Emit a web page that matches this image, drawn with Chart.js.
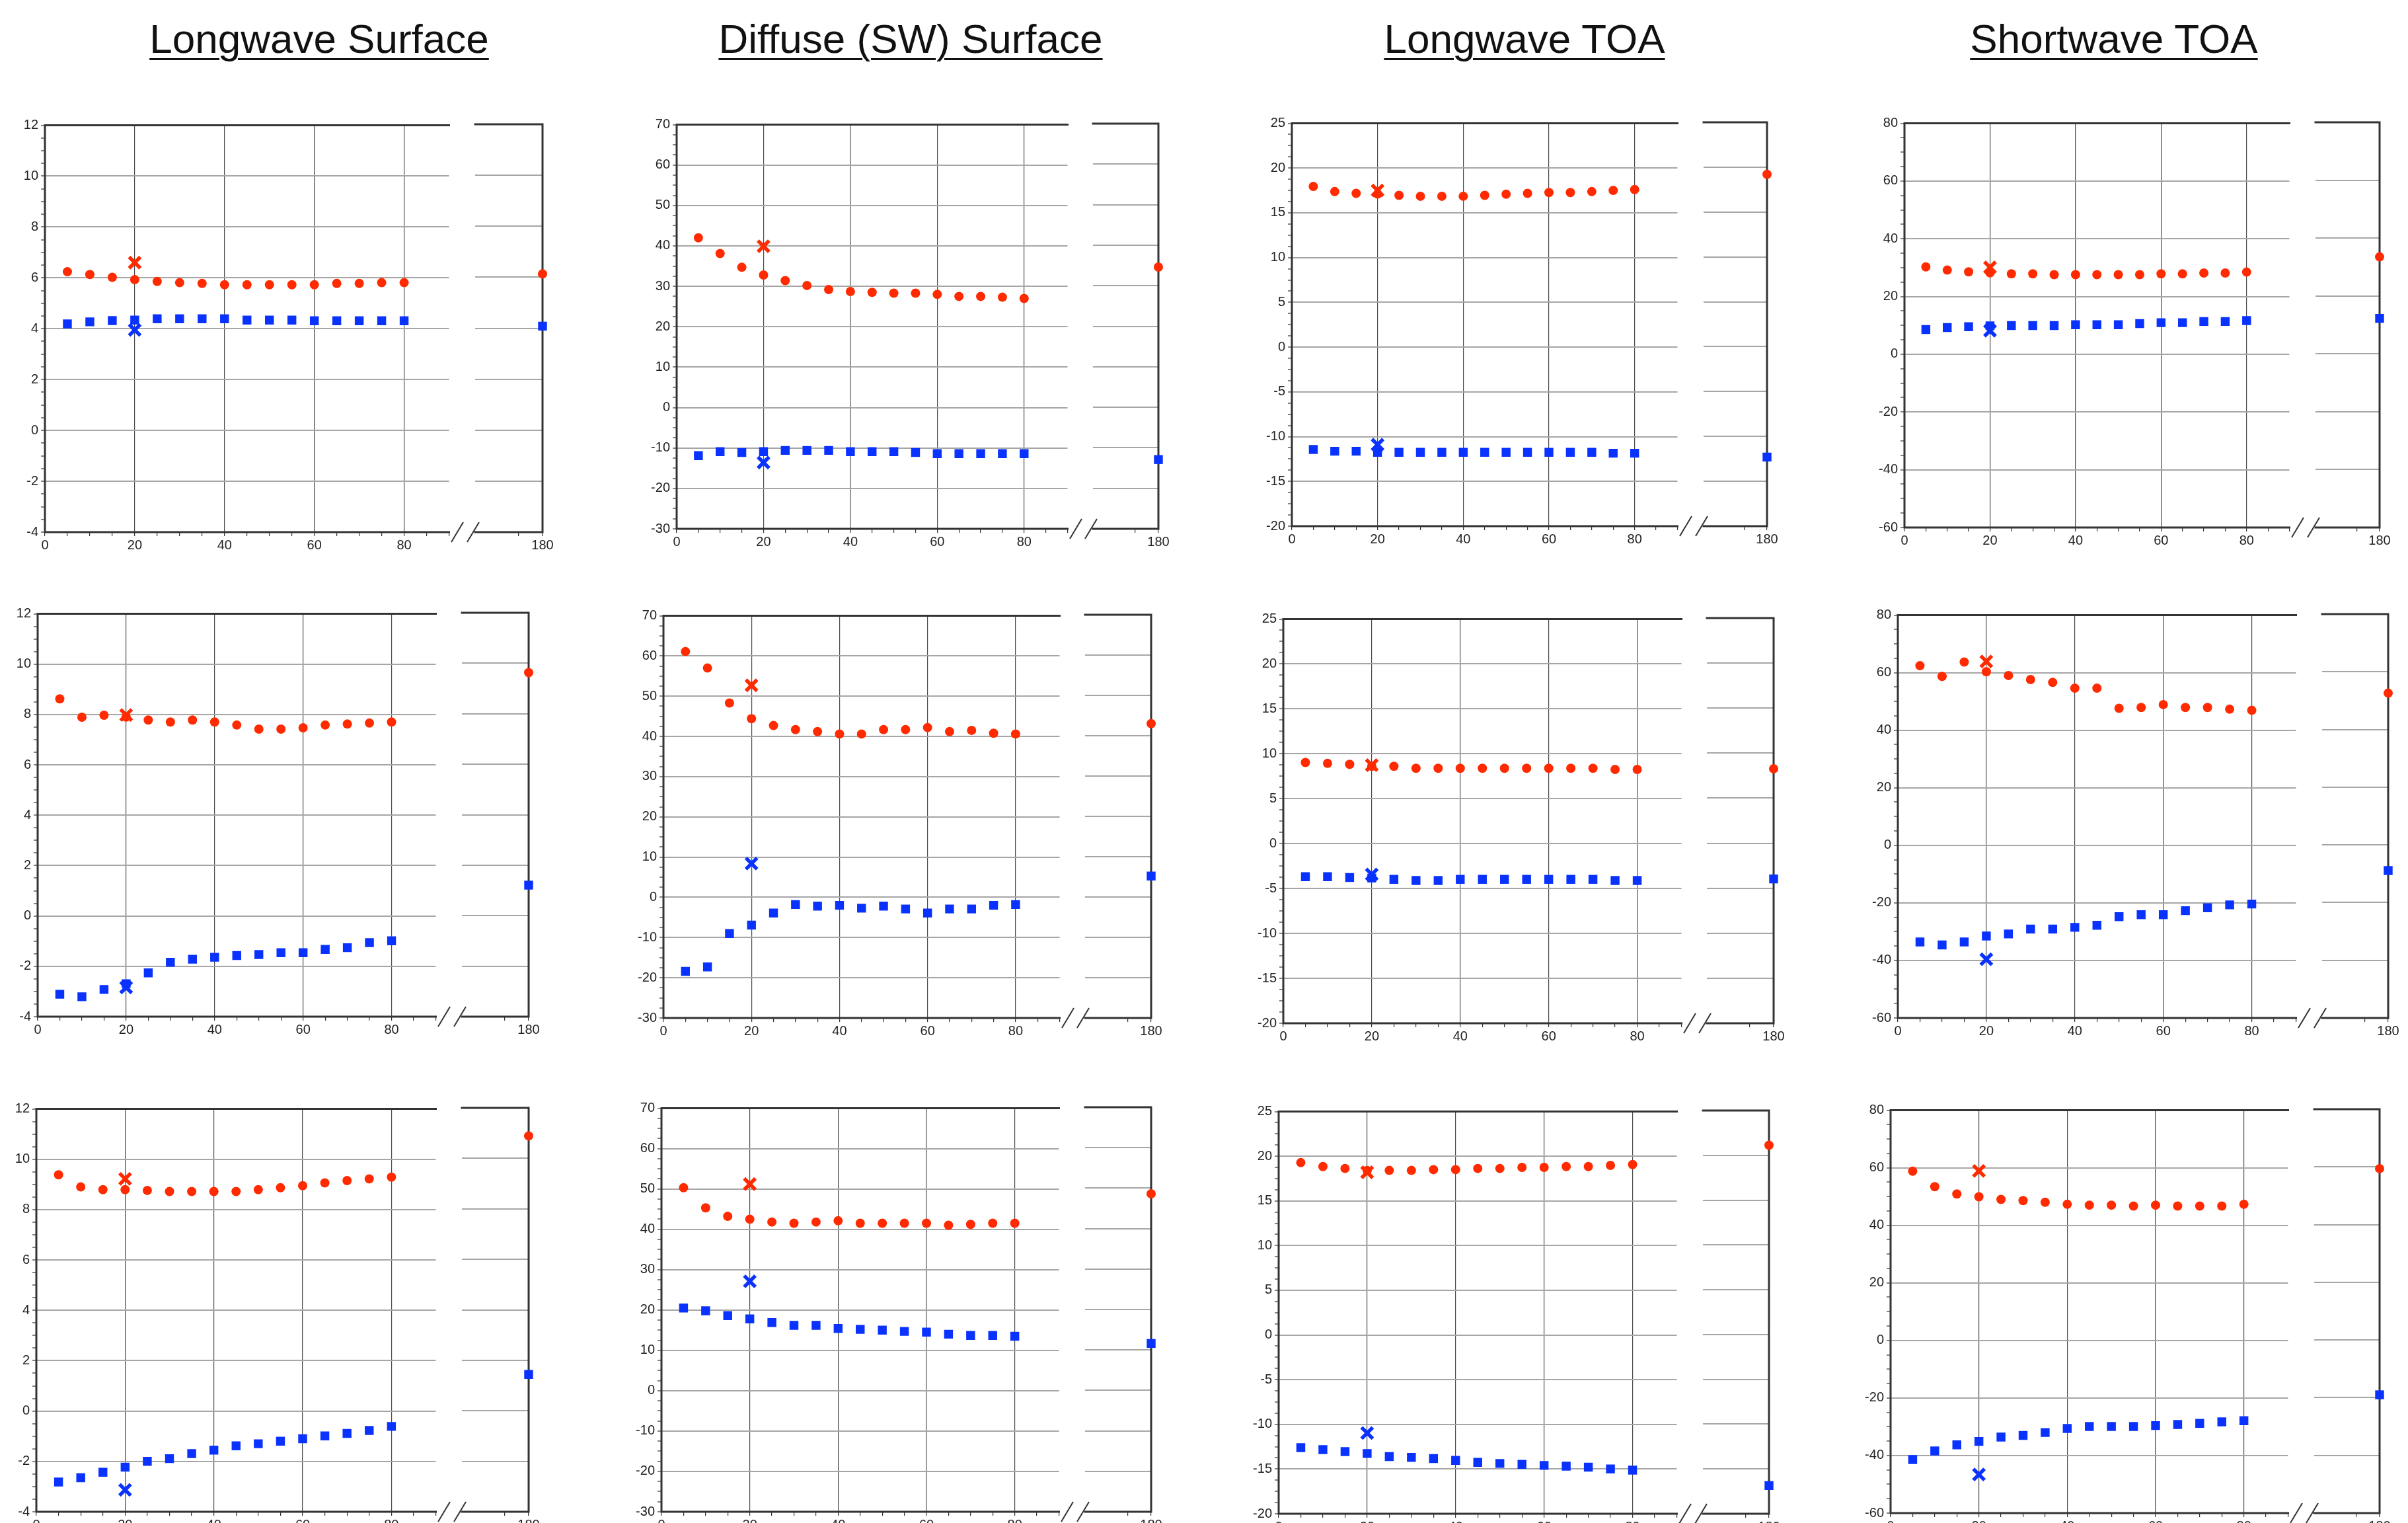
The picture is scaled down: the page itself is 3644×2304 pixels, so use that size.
<!DOCTYPE html>
<html>
<head>
<meta charset="utf-8">
<title>Surface and TOA flux panels</title>
<script src="https://cdn.jsdelivr.net/npm/chart.js@4.4.1/dist/chart.umd.min.js"></script>
<style>
  html, body { margin: 0; padding: 0; background: #fff; }
  #page { position: relative; width: 3644px; height: 2304px; overflow: hidden; background: #fff; }
  #page canvas { position: absolute; }
  .title {
    position: absolute; top: 23px; transform: translateX(-50%);
    font-family: 'Liberation Sans', Arial, sans-serif; font-size: 62px; color: #111;
    text-decoration: underline; text-decoration-thickness: 3px; text-underline-offset: 8px;
    white-space: nowrap;
  }
</style>
</head>
<body>
<div id="page"></div>
<script>
// x positions of the points; the last one sits past the axis break
const angles = [5, 10, 15, 20, 25, 30, 35, 40, 45, 50, 55, 60, 65, 70, 75, 80, 180];
const crossAngle = 20;
const xTickLabels = [0, 20, 40, 60, 80, 180];

const columnTitles = ['Longwave Surface', 'Diffuse (SW) Surface', 'Longwave TOA', 'Shortwave TOA'];
const yTickMin = [-4, -30, -20, -60];
const yTickMax = [12, 70, 25, 80];
const yTickStep = [2, 10, 5, 20];

// row 1
const row1LwSfcRed = [6.24, 6.13, 6.02, 5.93, 5.86, 5.81, 5.78, 5.73, 5.73, 5.73, 5.73, 5.73, 5.78, 5.78, 5.81, 5.81, 6.13];
const row1LwSfcBlue = [4.19, 4.27, 4.32, 4.34, 4.39, 4.39, 4.39, 4.39, 4.34, 4.34, 4.34, 4.31, 4.31, 4.31, 4.31, 4.31, 4.08];
const row1LwSfcCross = [6.6, 3.95];
const row1DifRed = [42.0, 38.1, 34.7, 32.8, 31.4, 30.2, 29.2, 28.7, 28.5, 28.3, 28.3, 28.0, 27.5, 27.5, 27.3, 27.0, 34.6];
const row1DifBlue = [-11.9, -10.9, -11.1, -10.9, -10.6, -10.6, -10.6, -10.9, -10.9, -10.9, -11.1, -11.4, -11.4, -11.4, -11.4, -11.4, -12.9];
const row1DifCross = [39.9, -13.6];
const row1LwToaRed = [17.94, 17.37, 17.17, 17.1, 16.95, 16.85, 16.85, 16.85, 16.95, 17.08, 17.17, 17.27, 17.27, 17.37, 17.5, 17.6, 19.2];
const row1LwToaBlue = [-11.43, -11.63, -11.63, -11.75, -11.75, -11.75, -11.75, -11.75, -11.75, -11.75, -11.75, -11.75, -11.75, -11.75, -11.85, -11.85, -12.3];
const row1LwToaCross = [17.5, -10.9];
const row1SwToaRed = [30.25, 29.15, 28.56, 28.2, 27.86, 27.86, 27.56, 27.56, 27.56, 27.56, 27.56, 27.86, 27.86, 28.16, 28.16, 28.46, 33.5];
const row1SwToaBlue = [8.56, 9.25, 9.55, 9.85, 9.95, 9.95, 9.95, 10.25, 10.25, 10.25, 10.65, 10.95, 10.95, 11.34, 11.34, 11.64, 12.24];
const row1SwToaCross = [30.1, 8.16];

// row 2
const row2LwSfcRed = [8.62, 7.89, 7.97, 7.9, 7.78, 7.70, 7.78, 7.70, 7.58, 7.42, 7.42, 7.47, 7.58, 7.62, 7.66, 7.70, 9.63];
const row2LwSfcBlue = [-3.11, -3.21, -2.92, -2.69, -2.26, -1.84, -1.72, -1.64, -1.57, -1.53, -1.46, -1.46, -1.33, -1.26, -1.06, -0.99, 1.21];
const row2LwSfcCross = [7.98, -2.84];
const row2DifRed = [61.1, 57.0, 48.3, 44.4, 42.7, 41.7, 41.2, 40.6, 40.6, 41.7, 41.7, 42.2, 41.2, 41.5, 40.8, 40.6, 43.0];
const row2DifBlue = [-18.4, -17.3, -9.0, -6.9, -3.9, -1.8, -2.2, -2.0, -2.7, -2.2, -2.9, -3.9, -2.9, -2.9, -2.0, -1.8, 5.2];
const row2DifCross = [52.7, 8.4];
const row2LwToaRed = [9.03, 8.93, 8.83, 8.6, 8.61, 8.39, 8.39, 8.39, 8.39, 8.39, 8.39, 8.39, 8.39, 8.39, 8.26, 8.26, 8.26];
const row2LwToaBlue = [-3.68, -3.68, -3.78, -3.84, -3.97, -4.1, -4.1, -3.97, -3.97, -3.97, -3.97, -3.97, -3.97, -3.97, -4.1, -4.1, -3.97];
const row2LwToaCross = [8.74, -3.43];
const row2SwToaRed = [62.4, 58.7, 63.7, 60.3, 59.0, 57.6, 56.6, 54.6, 54.6, 47.6, 47.9, 48.9, 47.9, 47.9, 47.3, 46.9, 52.6];
const row2SwToaBlue = [-33.6, -34.6, -33.6, -31.5, -30.8, -29.1, -29.1, -28.5, -27.8, -24.8, -24.1, -24.1, -22.7, -21.7, -20.7, -20.4, -8.9];
const row2SwToaCross = [63.9, -39.6];

// row 3
const row3LwSfcRed = [9.38, 8.90, 8.79, 8.79, 8.76, 8.72, 8.72, 8.72, 8.72, 8.79, 8.87, 8.95, 9.06, 9.15, 9.22, 9.29, 10.89];
const row3LwSfcBlue = [-2.82, -2.65, -2.43, -2.23, -2.0, -1.89, -1.69, -1.55, -1.38, -1.3, -1.2, -1.1, -0.99, -0.89, -0.77, -0.61, 1.44];
const row3LwSfcCross = [9.22, -3.13];
const row3DifRed = [50.3, 45.3, 43.2, 42.5, 41.8, 41.5, 41.8, 42.1, 41.5, 41.5, 41.5, 41.5, 41.0, 41.2, 41.5, 41.5, 48.6];
const row3DifBlue = [20.5, 19.8, 18.6, 17.8, 16.9, 16.2, 16.2, 15.4, 15.2, 15.0, 14.7, 14.5, 14.0, 13.7, 13.7, 13.5, 11.6];
const row3DifCross = [51.2, 27.1];
const row3LwToaRed = [19.28, 18.84, 18.63, 18.4, 18.41, 18.41, 18.5, 18.5, 18.63, 18.63, 18.75, 18.75, 18.84, 18.84, 18.97, 19.06, 21.13];
const row3LwToaBlue = [-12.61, -12.83, -13.05, -13.26, -13.6, -13.69, -13.82, -14.03, -14.25, -14.37, -14.47, -14.59, -14.68, -14.78, -14.99, -15.12, -16.85];
const row3LwToaCross = [18.2, -10.97];
const row3SwToaRed = [58.8, 53.4, 50.9, 49.9, 49.0, 48.6, 48.0, 47.3, 47.0, 47.0, 46.7, 47.0, 46.7, 46.7, 46.7, 47.3, 59.4];
const row3SwToaBlue = [-41.4, -38.4, -36.3, -35.1, -33.6, -33.0, -32.0, -30.6, -29.9, -29.9, -29.9, -29.6, -29.2, -28.8, -28.3, -27.9, -19.0];
const row3SwToaCross = [58.9, -46.6];

const panels = [
    { red: row1LwSfcRed, blue: row1LwSfcBlue, cross: row1LwSfcCross },
    { red: row1DifRed, blue: row1DifBlue, cross: row1DifCross },
    { red: row1LwToaRed, blue: row1LwToaBlue, cross: row1LwToaCross },
    { red: row1SwToaRed, blue: row1SwToaBlue, cross: row1SwToaCross },
    { red: row2LwSfcRed, blue: row2LwSfcBlue, cross: row2LwSfcCross },
    { red: row2DifRed, blue: row2DifBlue, cross: row2DifCross },
    { red: row2LwToaRed, blue: row2LwToaBlue, cross: row2LwToaCross },
    { red: row2SwToaRed, blue: row2SwToaBlue, cross: row2SwToaCross },
    { red: row3LwSfcRed, blue: row3LwSfcBlue, cross: row3LwSfcCross },
    { red: row3DifRed, blue: row3DifBlue, cross: row3DifCross },
    { red: row3LwToaRed, blue: row3LwToaBlue, cross: row3LwToaCross },
    { red: row3SwToaRed, blue: row3SwToaBlue, cross: row3SwToaCross }
];

// plot boxes on the page: left axis, top, bottom, end of main part, start and end of the part past the break
const boxes = [
    { l: 68, t: 188, b: 805, m: 697, rs: 719, re: 821 },
    { l: 1024, t: 187, b: 800, m: 1633, rs: 1654, re: 1753 },
    { l: 1955, t: 185, b: 796, m: 2556, rs: 2578, re: 2674 },
    { l: 2882, t: 185, b: 798, m: 3482, rs: 3504, re: 3601 },
    { l: 57, t: 927, b: 1538, m: 677, rs: 699, re: 800 },
    { l: 1004, t: 930, b: 1540, m: 1621, rs: 1642, re: 1742 },
    { l: 1942, t: 935, b: 1548, m: 2562, rs: 2583, re: 2684 },
    { l: 2872, t: 929, b: 1540, m: 3492, rs: 3514, re: 3614 },
    { l: 55, t: 1676, b: 2287, m: 677, rs: 699, re: 800 },
    { l: 1001, t: 1675, b: 2287, m: 1620, rs: 1642, re: 1742 },
    { l: 1935, t: 1680, b: 2290, m: 2555, rs: 2577, re: 2677 },
    { l: 2861, t: 1678, b: 2289, m: 3480, rs: 3502, re: 3601 }
];
const titleCenters = [483, 1378, 2307, 3199];

const AXIS_W = 70;
const AXIS_H = 42;
const PAD_TOP = 16;
const PAD_RIGHT = 30;
const RED = '#ff2a00';
const BLUE = '#0a32ff';
const INK = '#333';
const tickFont = { family: 'Liberation Sans', size: 20 };

const page = document.getElementById('page');

columnTitles.forEach((text, i) => {
    const div = document.createElement('div');
    div.className = 'title';
    div.style.left = titleCenters[i] + 'px';
    div.textContent = text;
    page.appendChild(div);
});

function isStep(v, step) {
    const r = v / step;
    return Math.abs(r - Math.round(r)) < 1e-6;
}

function points(series, keep) {
    return angles.map((a, i) => ({ x: a, y: series[i] })).filter(p => keep(p.x));
}

function framePlugin(sides, breakGap) {
    return {
        id: 'frame',
        beforeDatasetsDraw(chart) {
            const { ctx, chartArea: a } = chart;
            ctx.save();
            ctx.strokeStyle = INK;
            ctx.lineWidth = 3;
            ctx.beginPath();
            if (sides.includes('top')) { ctx.moveTo(a.left - 1.5, a.top); ctx.lineTo(a.right + 1.5, a.top); }
            if (sides.includes('bottom')) { ctx.moveTo(a.left - 1.5, a.bottom); ctx.lineTo(a.right + 1.5, a.bottom); }
            if (sides.includes('left')) { ctx.moveTo(a.left, a.top); ctx.lineTo(a.left, a.bottom); }
            if (sides.includes('right')) { ctx.moveTo(a.right, a.top); ctx.lineTo(a.right, a.bottom); }
            ctx.stroke();
            if (breakGap) {
                ctx.lineWidth = 2;
                [a.left - breakGap - 5, a.left - 3].forEach(cx => {
                    ctx.beginPath();
                    ctx.moveTo(cx - 9, a.bottom + 15);
                    ctx.lineTo(cx + 9, a.bottom - 15);
                    ctx.stroke();
                });
            }
            ctx.restore();
        }
    };
}

function makeCanvas(left, top, width, height) {
    const canvas = document.createElement('canvas');
    canvas.width = width;
    canvas.height = height;
    canvas.style.left = left + 'px';
    canvas.style.top = top + 'px';
    canvas.style.width = width + 'px';
    canvas.style.height = height + 'px';
    page.appendChild(canvas);
    return canvas;
}

function yScale(col, showLabels) {
    const step = yTickStep[col];
    return {
        type: 'linear',
        min: yTickMin[col],
        max: yTickMax[col],
        afterFit: s => { s.width = showLabels ? AXIS_W : 0; },
        border: { display: false },
        grid: {
            color: c => isStep(c.tick.value, step) ? '#a6a6a6' : 'transparent',
            lineWidth: 2,
            drawTicks: showLabels,
            tickColor: INK,
            tickLength: 6,
            tickWidth: 1.2
        },
        ticks: {
            display: showLabels,
            stepSize: step / 4,
            autoSkip: false,
            padding: 4,
            color: '#222',
            font: tickFont,
            callback: v => isStep(v, step) ? String(Math.round(v)) : ''
        }
    };
}

function xScale(min, max, drawGrid) {
    return {
        type: 'linear',
        min: min,
        max: max,
        afterFit: s => { s.height = AXIS_H; },
        border: { display: false },
        grid: {
            color: c => (drawGrid && c.tick.value > 0 && isStep(c.tick.value, 20)) ? '#4a4a4a' : 'transparent',
            lineWidth: 1.2,
            tickColor: c => isStep(c.tick.value, 5) ? INK : 'transparent',
            tickLength: 6,
            tickWidth: 1.2
        },
        ticks: {
            stepSize: 5,
            autoSkip: false,
            maxRotation: 0,
            padding: 2,
            color: '#222',
            font: tickFont,
            callback: v => xTickLabels.includes(v) ? String(v) : ''
        }
    };
}

function baseOptions(padding) {
    return {
        responsive: false,
        animation: false,
        events: [],
        layout: { padding: padding },
        plugins: { legend: { display: false }, tooltip: { enabled: false } }
    };
}

const circle = { pointStyle: 'circle', pointRadius: 7, backgroundColor: RED, borderWidth: 0 };
const square = { pointStyle: 'rect', pointRadius: 9.5, backgroundColor: BLUE, borderWidth: 0 };
const cross = { pointStyle: 'crossRot', pointRadius: 12, borderWidth: 5.5 };

panels.forEach((p, idx) => {
    const box = boxes[idx];
    const col = idx % 4;
    const top = box.t - PAD_TOP;
    const height = box.b - box.t + PAD_TOP + AXIS_H;

    // main part, 0 to 90
    const mainCanvas = makeCanvas(box.l - AXIS_W, top, box.m - box.l + AXIS_W, height);
    new Chart(mainCanvas, {
        type: 'scatter',
        data: {
            datasets: [
                Object.assign({ data: points(p.red, x => x <= 90) }, circle),
                Object.assign({ data: points(p.blue, x => x <= 90) }, square),
                Object.assign({ data: [{ x: crossAngle, y: p.cross[0] }], borderColor: RED }, cross),
                Object.assign({ data: [{ x: crossAngle, y: p.cross[1] }], borderColor: BLUE }, cross)
            ]
        },
        options: Object.assign(baseOptions({ top: PAD_TOP, left: 0, right: 0, bottom: 0 }), {
            scales: { x: xScale(0, 90, true), y: yScale(col, true) }
        }),
        plugins: [framePlugin(['top', 'left', 'bottom'], 0)]
    });

    // part past the axis break, around 180
    const gap = box.rs - box.m;
    const padL = gap + 25;
    const farCanvas = makeCanvas(box.rs - padL, top, padL + box.re - box.rs + PAD_RIGHT, height);
    new Chart(farCanvas, {
        type: 'scatter',
        data: {
            datasets: [
                Object.assign({ data: points(p.red, x => x >= 166), clip: false }, circle),
                Object.assign({ data: points(p.blue, x => x >= 166), clip: false }, square)
            ]
        },
        options: Object.assign(baseOptions({ top: PAD_TOP, left: padL, right: PAD_RIGHT, bottom: 0 }), {
            scales: { x: xScale(166, 180, false), y: yScale(col, false) }
        }),
        plugins: [framePlugin(['top', 'right', 'bottom'], gap)]
    });
});
</script>
</body>
</html>
